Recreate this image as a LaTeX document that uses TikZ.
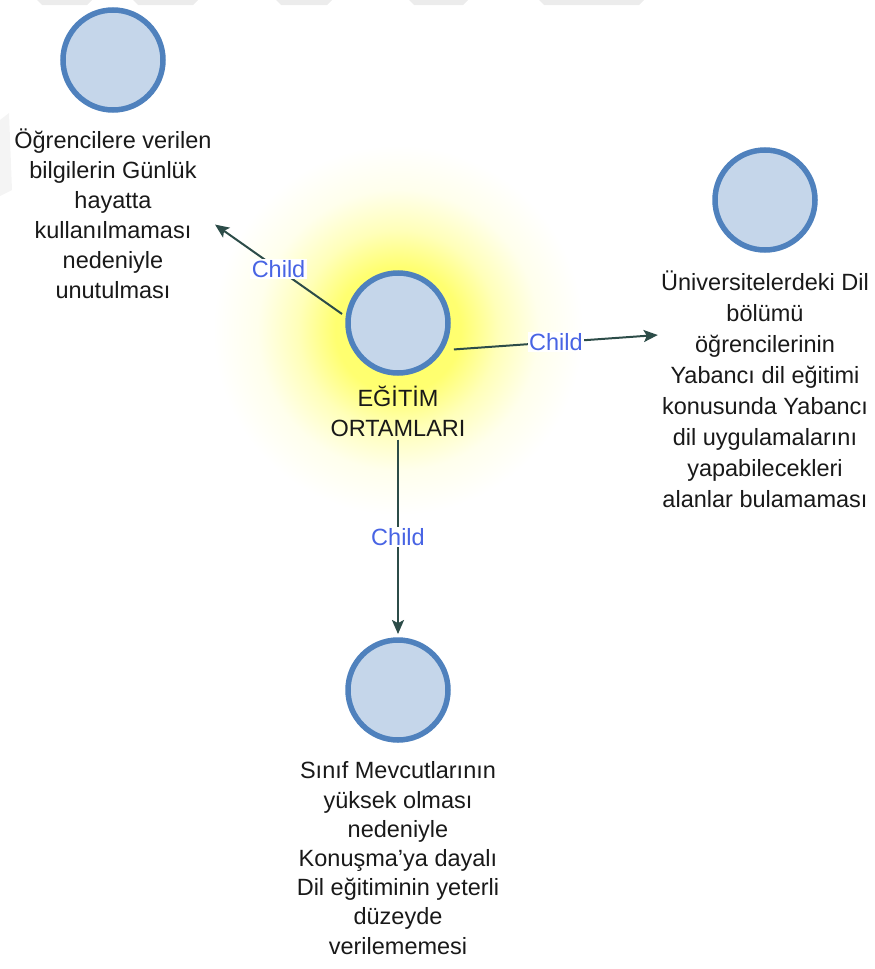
\documentclass[tikz,border=0pt]{standalone}
\usepackage{fontspec}
\setmainfont{Liberation Sans}
\usetikzlibrary{arrows.meta,fit}

\definecolor{ringblue}{RGB}{79,129,189}
\definecolor{discfill}{RGB}{197,214,234}
\definecolor{linkgray}{RGB}{44,76,72}
\definecolor{tagblue}{RGB}{72,100,228}
\definecolor{glowcore}{RGB}{255,255,100}
\definecolor{markgray}{RGB}{236,236,236}
\definecolor{markfaint}{RGB}{244,244,244}

% soft yellow halo behind the central topic (path edge sits at 25bp)
\pgfdeclareradialshading{halo}{\pgfpoint{0bp}{0bp}}{%
  color(0bp)=(glowcore);
  color(8.5bp)=(glowcore!92!white);
  color(13.5bp)=(glowcore!45!white);
  color(19bp)=(glowcore!12!white);
  color(25bp)=(white);
  color(50bp)=(white)}

\tikzset{
  bubble/.style={circle, draw=ringblue, fill=discfill, line width=5.5pt,
                 minimum size=100pt, inner sep=0pt},
  caption/.style={align=center, inner sep=0pt, text=black!90,
                  font=\fontsize{23.5}{30}\selectfont},
  groupbox/.style={inner sep=3pt, draw=none},
  link/.style={draw=linkgray, line width=2pt,
               -{Stealth[length=14pt,width=12pt,inset=3pt]}},
  tag/.style={fill=white, inner sep=1.5pt, text=tagblue,
              font=\fontsize{23.5}{28}\selectfont}
}

\begin{document}
\begin{tikzpicture}[x=1pt, y=-1pt]
\useasboundingbox (0,0) rectangle (875,969);

% faint watermark fragments along the top and left edges
\fill[markgray] (37,0) -- (92,0) -- (87,5) -- (42,5) -- cycle;
\fill[markgray] (133,0) -- (198,0) -- (193,5) -- (138,5) -- cycle;
\fill[markgray] (276,0) -- (332,0) -- (327,5) -- (281,5) -- cycle;
\fill[markgray] (409,0) -- (468,0) -- (463,5) -- (414,5) -- cycle;
\fill[markgray] (539,0) -- (644,0) -- (639,5) -- (544,5) -- cycle;
\fill[markfaint] (0,120) -- (9,113) -- (12,190) -- (0,196) -- cycle;

% halo
\shade[shading=halo] (398,330) circle[radius=185pt];

% central topic
\node[bubble] (hub) at (398,323) {};
\node[caption] (hubtext) at (398,411) {EĞİTİM\\ORTAMLARI};
\node[groupbox, fit=(hub)(hub.south |- hubtext.south)] (hubbox) {};

% upper-left child
\node[bubble] (tl) at (113,60) {};
\node[caption] (tltext) at (113,214) {Öğrencilere verilen\\bilgilerin Günlük\\hayatta\\kullanılmaması\\nedeniyle\\unutulması};
\node[groupbox, fit=(tl)(tltext)] (tlbox) {};

% right child
\node[bubble] (rt) at (765,200) {};
\node[caption, font=\fontsize{23.5}{31}\selectfont] (rttext) at (765,389) {Üniversitelerdeki Dil\\bölümü\\öğrencilerinin\\Yabancı dil eğitimi\\konusunda Yabancı\\dil uygulamalarını\\yapabilecekleri\\alanlar bulamaması};
\node[groupbox, fit=(rt)(rttext)] (rtbox) {};

% lower child
\node[bubble] (bt) at (398,690) {};
\node[caption, font=\fontsize{23.5}{29.2}\selectfont] (bttext) at (398,858) {Sınıf Mevcutlarının\\yüksek olması\\nedeniyle\\Konuşma'ya dayalı\\Dil eğitiminin yeterli\\düzeyde\\verilememesi};
\node[groupbox, fit=(bt)(bttext)] (btbox) {};

% connectors
\draw[link] (hubbox) -- node[tag] {Child} (tlbox);
\draw[link] (hubbox) -- node[tag] {Child} (rtbox);
\draw[link] (hubbox) -- node[tag] {Child} (btbox);
\end{tikzpicture}
\end{document}
